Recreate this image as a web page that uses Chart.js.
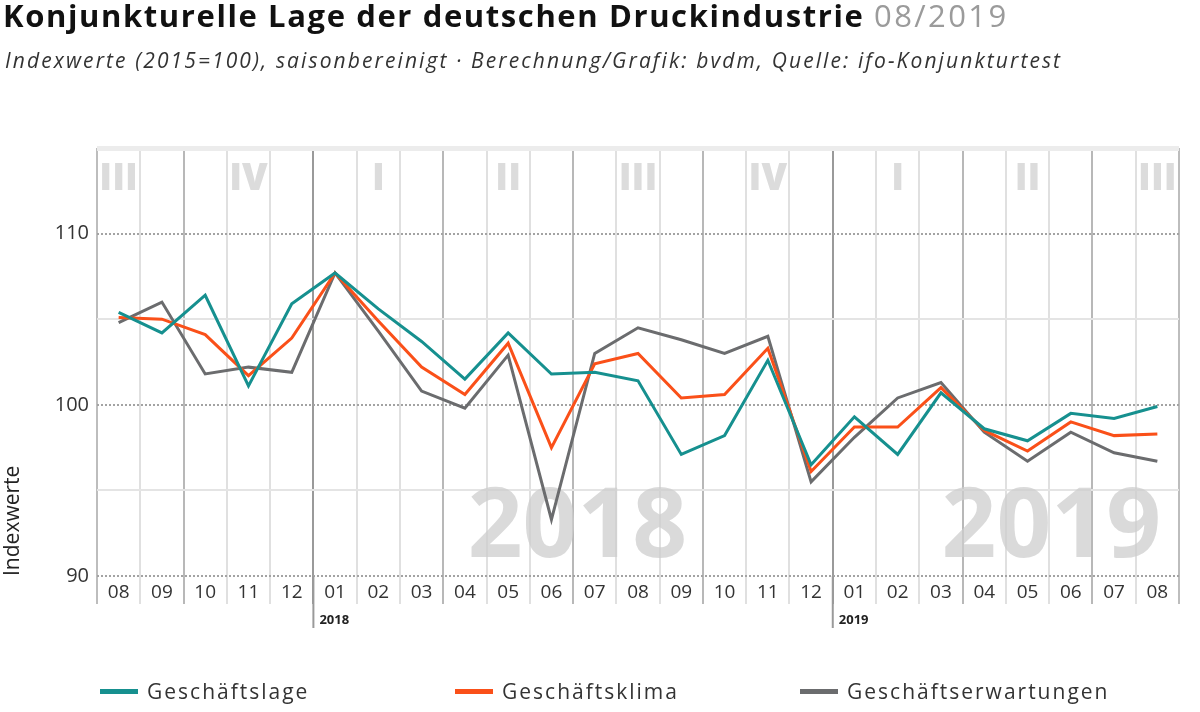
<!DOCTYPE html>
<html>
<head>
<meta charset="utf-8">
<script src="https://cdn.jsdelivr.net/npm/chart.js@4.4.0/dist/chart.umd.min.js"></script>
<style>
  body { margin: 0; background: #fff; font-family: "Open Sans", sans-serif; }
  #wrap { position: relative; width: 1200px; height: 712px; overflow: hidden; }
  canvas { position: absolute; left: 0; top: 0; }
  #title { position: absolute; left: 3px; top: -6px; font-size: 31px; letter-spacing: 1.6px; font-weight: 700; color: #111; white-space: nowrap; }
  #title span { font-weight: 400; color: #9b9b9b; letter-spacing: 2.4px; }
  #subtitle { position: absolute; left: 5px; top: 46px; font-size: 21px; letter-spacing: 2.1px; font-style: italic; color: #333; white-space: nowrap; }
  #legend .item { position: absolute; top: 677px; display: flex; align-items: center; font-size: 21px; letter-spacing: 2px; color: #333; white-space: nowrap; }
  #legend .item i { display: inline-block; width: 38px; height: 5px; margin-right: 9px; }
</style>
</head>
<body>
<div id="wrap">
  <canvas id="lineChart" width="1200" height="712"></canvas>
  <div id="title">Konjunkturelle Lage der deutschen Druckindustrie <span>08/2019</span></div>
  <div id="subtitle">Indexwerte (2015=100), saisonbereinigt · Berechnung/Grafik: bvdm, Quelle: ifo-Konjunkturtest</div>
  <div id="legend"></div>
</div>
<script>
// months 08/2017 .. 08/2019
const months = ["08", "09", "10", "11", "12", "01", "02", "03", "04", "05", "06", "07", "08",
                "09", "10", "11", "12", "01", "02", "03", "04", "05", "06", "07", "08"];
const yearLabels = ["2018", "2019"];
const yearStarts = [5, 17];
const watermarkAt = [10.6, 21.55];
const quarterLabels = ["III", "IV", "I", "II", "III", "IV", "I", "II", "III"];
const quarterMid = [0, 3, 6, 9, 12, 15, 18, 21, 24];

const lage = [105.4, 104.2, 106.4, 101.1, 105.9, 107.7, 105.6, 103.7, 101.5, 104.2, 101.8, 101.9, 101.4,
              97.1, 98.2, 102.6, 96.5, 99.3, 97.1, 100.7, 98.6, 97.9, 99.5, 99.2, 99.9];
const klima = [105.1, 105.0, 104.1, 101.7, 103.9, 107.7, 104.9, 102.2, 100.6, 103.6, 97.5, 102.4, 103.0,
               100.4, 100.6, 103.3, 96.1, 98.7, 98.7, 101.0, 98.5, 97.3, 99.0, 98.2, 98.3];
const erwartungen = [104.8, 106.0, 101.8, 102.2, 101.9, 107.7, 104.3, 100.8, 99.8, 102.9, 93.3, 103.0, 104.5,
                     103.8, 103.0, 104.0, 95.5, 98.1, 100.4, 101.3, 98.4, 96.7, 98.4, 97.2, 96.7];

const series = [
  { label: "Geschäftslage", data: lage, color: "#16908f", left: 100 },
  { label: "Geschäftsklima", data: klima, color: "#fa5019", left: 455 },
  { label: "Geschäftserwartungen", data: erwartungen, color: "#6b6c6e", left: 800 },
];

// legend
const legend = document.getElementById("legend");
series.forEach(s => {
  const d = document.createElement("div");
  d.className = "item";
  d.style.left = s.left + "px";
  d.innerHTML = '<i style="background:' + s.color + '"></i>' + s.label;
  legend.appendChild(d);
});

function vLineColor(ctx) {
  const i = ctx.index === undefined ? months.length : ctx.index;
  if (yearStarts.includes(i)) return "#9a9a9a";
  if (i === 0 || i === months.length) return "#bdbdbd";
  if (["01", "04", "07", "10"].includes(months[i])) return "#b8b8b8";
  return "#e0e0e0";
}

// quarter labels, year watermark, year marks below the axis
const decorations = {
  id: "decorations",
  beforeDatasetsDraw(chart) {
    const { ctx, scales: { x, y }, chartArea } = chart;
    ctx.save();
    ctx.fillStyle = "#dcdcdc";
    ctx.font = "800 37px 'Open Sans'";
    ctx.textAlign = "center";
    ctx.textBaseline = "middle";
    quarterLabels.forEach((q, k) => ctx.fillText(q, x.getPixelForValue(quarterMid[k]), chartArea.top + 31));

    ctx.fillStyle = "rgba(205,205,205,0.75)";
    ctx.font = "700 96px 'Open Sans'";
    yearLabels.forEach((t, k) => {
      const a = Math.floor(watermarkAt[k]);
      const f = watermarkAt[k] - a;
      const px = x.getPixelForValue(a) * (1 - f) + x.getPixelForValue(a + 1) * f;
      ctx.fillText(t, px, y.getPixelForValue(92.7));
    });
    ctx.restore();
  },
  afterDraw(chart) {
    const { ctx, scales: { x }, chartArea } = chart;
    ctx.save();
    ctx.strokeStyle = "#9a9a9a";
    ctx.lineWidth = 2;
    ctx.fillStyle = "#222";
    ctx.font = "700 13px 'Open Sans'";
    ctx.textBaseline = "middle";
    yearLabels.forEach((t, k) => {
      const i = yearStarts[k];
      const bx = (x.getPixelForValue(i - 1) + x.getPixelForValue(i)) / 2;
      ctx.beginPath();
      ctx.moveTo(bx, chartArea.bottom);
      ctx.lineTo(bx, chartArea.bottom + 52);
      ctx.stroke();
      ctx.fillText(t, bx + 6, chartArea.bottom + 44);
    });
    ctx.restore();
  }
};

new Chart(document.getElementById("lineChart"), {
  type: "line",
  data: {
    labels: months,
    datasets: series.map(s => ({
      label: s.label,
      data: s.data,
      borderColor: s.color,
      borderWidth: 3,
      pointRadius: 0,
      tension: 0,
      fill: false,
    })),
  },
  options: {
    responsive: false,
    animation: false,
    layout: { padding: { top: 148, right: 21, bottom: 76, left: 0 } },
    plugins: { legend: { display: false }, tooltip: { enabled: false } },
    scales: {
      x: {
        offset: true,
        grid: {
          offset: true,
          color: vLineColor,
          tickColor: vLineColor,
          lineWidth: 2,
          tickWidth: 2,
          tickLength: 28,
        },
        border: { display: false },
        ticks: { padding: -23, color: "#333", font: { family: "Open Sans", size: 19 }, maxRotation: 0, autoSkip: false },
        afterFit(scale) { scale.height = 60; },
      },
      y: {
        min: 90,
        max: 115,
        ticks: {
          stepSize: 5,
          padding: 8,
          color: "#333",
          font: { family: "Open Sans", size: 20 },
          callback: v => (v % 10 === 0 && v < 115) ? v : "",
        },
        grid: {
          drawTicks: false,
          color: ctx => {
            const v = ctx.tick ? ctx.tick.value : 0;
            if (v === 115) return "#ececec";
            return v % 10 === 0 ? "#a3a3a3" : "#e4e4e4";
          },
          lineWidth: ctx => (ctx.tick && ctx.tick.value === 115) ? 5 : 2,
        },
        border: {
          display: false,
          dash: ctx => (ctx.tick && ctx.tick.value % 10 === 0 && ctx.tick.value < 115) ? [2, 2] : [],
        },
        title: {
          display: true,
          text: "Indexwerte",
          align: "start",
          color: "#222",
          font: { family: "Open Sans", size: 21 },
          padding: { top: 0, bottom: 0 },
        },
        afterFit(scale) { scale.width = 97; },
      },
    },
  },
  plugins: [decorations],
});
</script>
</body>
</html>
